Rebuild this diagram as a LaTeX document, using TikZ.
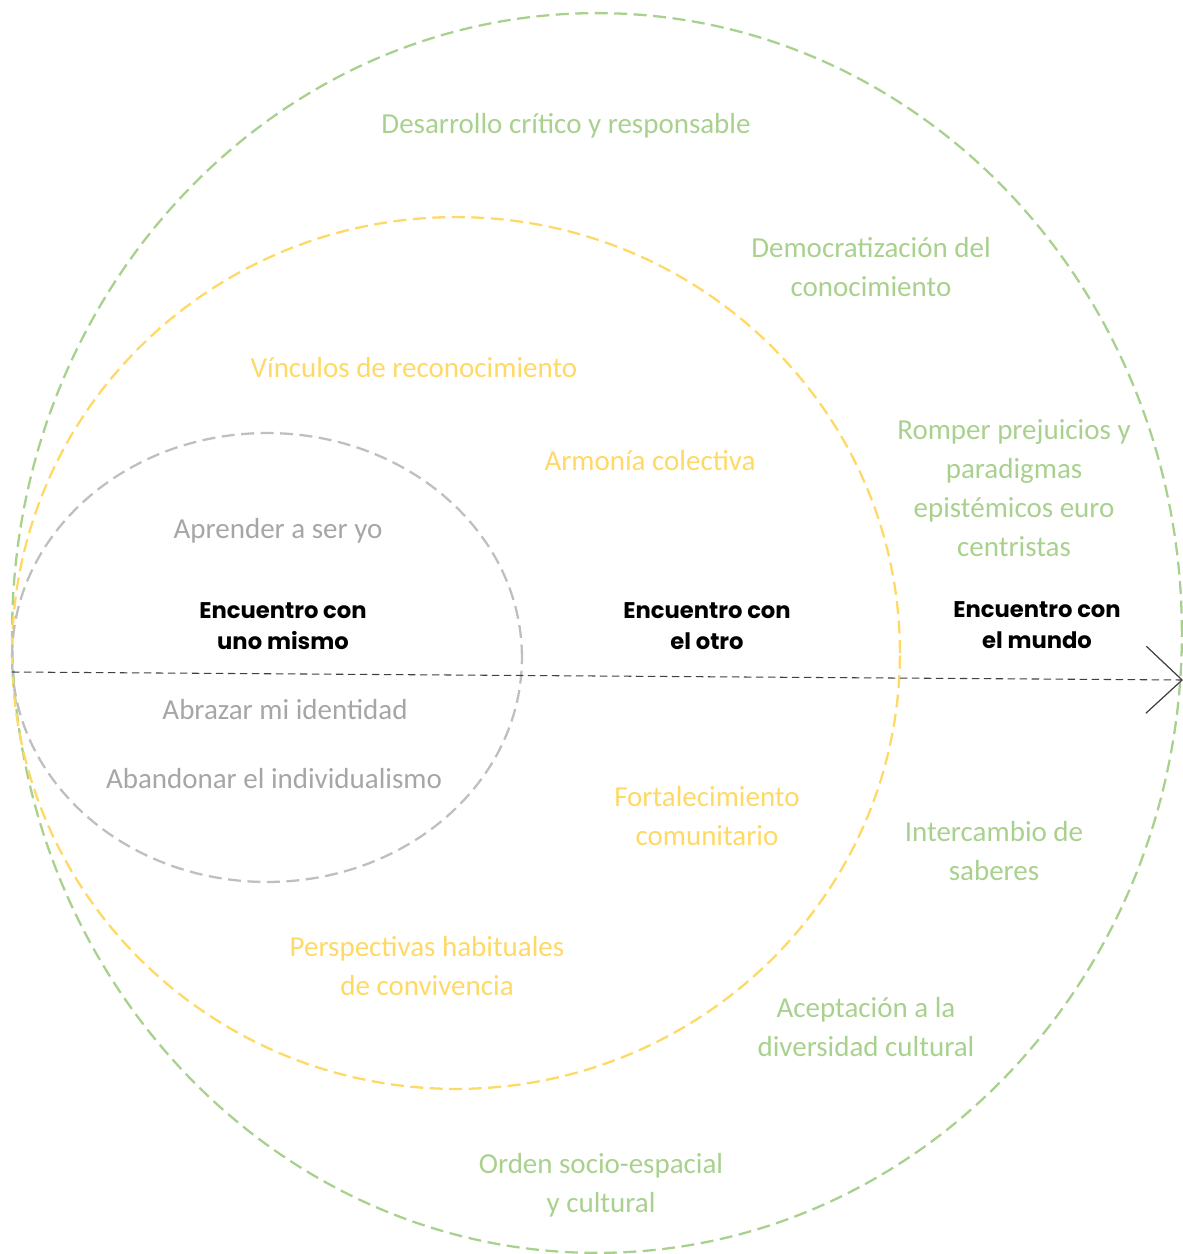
\documentclass[tikz,border=0pt]{standalone}
\usepackage{fontspec}
\setmainfont{Carlito}
\newfontfamily\gothic{Poppins}
\usetikzlibrary{arrows.meta}
\definecolor{verde}{HTML}{A9D18E}
\definecolor{amarillo}{HTML}{FFD966}
\definecolor{gristxt}{HTML}{A6A6A6}
\definecolor{grislin}{HTML}{BFBFBF}
\definecolor{flecha}{HTML}{404040}

\begin{document}
\begin{tikzpicture}[
		x=0.02cm, y=-0.02cm,
		ring/.style={dash pattern=on 0.26cm off 0.13cm, line width=1.3pt},
		txt/.style={align=center, font=\fontsize{16.5}{22.2}\selectfont, inner sep=0pt},
		titulo/.style={align=center, font=\gothic\bfseries\fontsize{12.9}{17.8}\selectfont, inner sep=0pt}
	]
	\useasboundingbox (0,0) rectangle (1183,1254);

	% circulos
	\draw[ring, color=verde] (597,633) ellipse [x radius=11.7cm, y radius=12.4cm];
	\draw[ring, color=amarillo] (456,653) ellipse [x radius=8.88cm, y radius=8.72cm];
	\draw[ring, color=grislin] (267,657.5) ellipse [x radius=5.1cm, y radius=4.49cm];

	% eje
	\coordinate (inicio) at (12,672);
	\coordinate (fin) at (1183,680);
	\draw[color=flecha, line width=0.6pt, dash pattern=on 0.15cm off 0.09cm,
		-{Straight Barb[length=0.72cm, width=1.34cm, line width=0.7pt]}] (inicio) -- (fin);

	% encuentros
	\node[titulo] (mismo) at (283,626) {Encuentro con\\uno mismo};
	\node[titulo] (otro) at (707,626) {Encuentro con\\el otro};
	\node[titulo] (mundo) at (1037,625) {Encuentro con\\el mundo};

	% uno mismo
	\node[txt, color=gristxt] (ser) at (278,531) {Aprender a ser yo};
	\node[txt, color=gristxt] (abrazar) at (285,710) {Abrazar mi identidad};
	\node[txt, color=gristxt] (abandonar) at (274,779) {Abandonar el individualismo};

	% el otro
	\node[txt, color=amarillo] (vinculos) at (414,368) {Vínculos de reconocimiento};
	\node[txt, color=amarillo] (armonia) at (650,461) {Armonía colectiva};
	\node[txt, color=amarillo] (fortalecimiento) at (707,816.5) {Fortalecimiento\\comunitario};
	\node[txt, color=amarillo] (perspectivas) at (427,966.5) {Perspectivas habituales\\de convivencia};

	% el mundo
	\node[txt, color=verde] (desarrollo) at (566,126) {Desarrollo crítico y responsable};
	\node[txt, color=verde] (democratizacion) at (871,267.5) {Democratización del\\conocimiento};
	\node[txt, color=verde] (romper) at (1014,488) {Romper prejuicios y\\paradigmas\\epistémicos euro\\centristas};
	\node[txt, color=verde] (intercambio) at (994,851.5) {Intercambio de\\saberes};
	\node[txt, color=verde] (aceptacion) at (866,1027) {Aceptación a la\\diversidad cultural};
	\node[txt, color=verde] (orden) at (601,1185) {Orden socio-espacial\\y cultural};
\end{tikzpicture}
\end{document}
